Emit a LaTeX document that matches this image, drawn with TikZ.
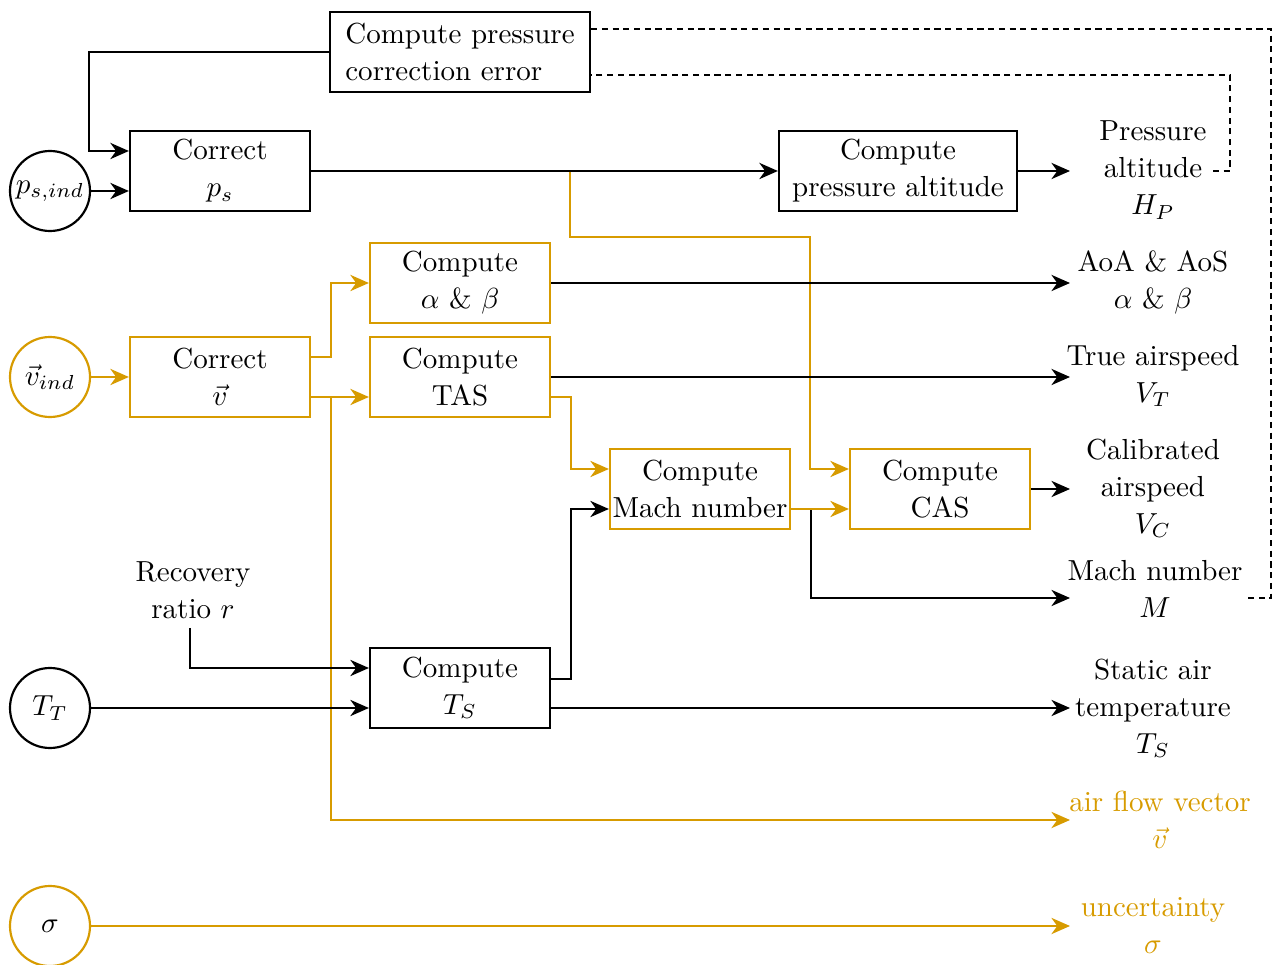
\documentclass[tikz,border=0pt]{standalone}
\usetikzlibrary{arrows.meta,calc}
\definecolor{flow}{RGB}{215,155,0}
\begin{document}
\begin{tikzpicture}[x=0.3448pt,y=-0.3448pt,
  font=\fontsize{10}{12.75}\selectfont,
  box/.style={draw, line width=0.75pt, minimum width=62.07pt, minimum height=27.59pt, align=center, inner sep=2pt},
  obox/.style={box, draw=flow},
  port/.style={draw, circle, line width=0.75pt, minimum size=27.59pt, inner sep=0pt},
  oport/.style={port, draw=flow},
  outlabel/.style={align=center, inner sep=3pt},
  wire/.style={line width=0.75pt, -{Stealth[length=6.4pt,width=5.6pt,inset=2pt]}},
  owire/.style={wire, draw=flow},
  dashline/.style={line width=0.75pt, dash pattern=on 2.1pt off 1.6pt}]
\useasboundingbox (0,0) rectangle (1280,965);

% inputs
\node[port]  (psind) at (50,191) {$p_{s,ind}$};
\node[oport] (vind)  at (50,377) {$\vec{v}_{ind}$};
\node[port]  (TT)    at (50,708) {$T_T$};
\node[oport] (sig)   at (50,926) {$\sigma$};

% processing blocks
\node[box, minimum width=89.66pt, align=left] (corr) at (460,52) {Compute pressure\\correction error};
\node[box]  (cps) at (220,171) {Correct\\$p_s$};
\node[box, minimum width=82.07pt] (cpa) at (898,171) {Compute\\pressure altitude};
\node[obox] (cab) at (460,283) {Compute\\$\alpha$ \& $\beta$};
\node[obox] (cv)  at (220,377) {Correct\\$\vec{v}$};
\node[obox] (tas) at (460,377) {Compute\\TAS};
\node[obox, inner xsep=0pt] (mach) at (700,489) {Compute\\Mach number};
\node[obox] (cas) at (940,489) {Compute\\CAS};
\node[box]  (ts)  at (460,688) {Compute\\$T_S$};

% outputs
\node[outlabel] (plab)  at (1153,170) {Pressure\\altitude\\$H_P$};
\node[outlabel] (aoa)   at (1153,282) {AoA \& AoS\\$\alpha$ \& $\beta$};
\node[outlabel] (vt)    at (1153,376) {True airspeed\\$V_T$};
\node[outlabel] (vc)    at (1153,488) {Calibrated\\airspeed\\$V_C$};
\node[outlabel] (mlab)  at (1155,589) {Mach number\\$M$};
\node[outlabel] (tslab) at (1153,708) {Static air\\temperature\\$T_S$};
\node[outlabel, text=flow] (vlab)   at (1160,820) {air flow vector\\$\vec{v}$};
\node[outlabel, text=flow] (siglab) at (1153,925) {uncertainty\\$\sigma$};
\node[outlabel] (rec) at (193,590) {Recovery\\ratio $r$};

\coordinate (outcol) at (1070,0);
\coordinate (paend) at (1213,171);
\coordinate (mend) at (1248,598);

% static pressure path
\draw[owire] (cps.east) -- (570,171) |- (810,237) |- ($(cas.west)+(0,-20)$);
\draw[wire] (psind.east) -- ($(cps.west)+(0,20)$);
\draw[wire] (corr.west) -- ++(-240,0) |- ($(cps.west)+(0,-20)$);
\draw[wire] (cps.east) -- (cpa.west);
\draw[wire] (cpa.east) -- (cpa.east -| outcol);

% correction error feedback
\draw[dashline] ($(corr.north east)+(0,18)$) -- ++(680,0) |- (mend);
\draw[dashline] (paend) -- ++(17,0) |- ($(corr.south east)+(0,-18)$);

% air flow vector path
\draw[owire] (vind) -- (cv.west);
\draw[owire] ($(cv.east)+(0,-20)$) -- ++(20,0) |- (cab.west);
\draw[owire] ($(cv.east)+(0,20)$) -- ($(tas.west)+(0,20)$);
\draw[owire] ($(cv.east)+(0,20)$) -- ++(20,0) |- (outcol |- vlab);
\draw[wire] (cab.east) -- (cab.east -| outcol);
\draw[wire] (tas.east) -- (tas.east -| outcol);
\draw[owire] ($(tas.east)+(0,20)$) -- ++(20,0) |- ($(mach.west)+(0,-20)$);

% temperature path
\draw[wire] ($(rec.south)+(-3,0)$) |- ($(ts.west)+(0,-20)$);
\draw[wire] (TT.east) -- ($(ts.west)+(0,20)$);
\draw[wire] ($(ts.east)+(0,-9)$) -- ++(20,0) |- ($(mach.west)+(0,20)$);
\draw[wire] ($(ts.east)+(0,20)$) -- (outcol |- tslab);

% Mach number and calibrated airspeed
\draw[wire] ($(mach.east)+(0,20)$) -- ++(20,0) |- (outcol |- mend);
\draw[owire] ($(mach.east)+(0,20)$) -- ($(cas.west)+(0,20)$);
\draw[wire] (cas.east) -- (cas.east -| outcol);

% uncertainty
\draw[owire] (sig.east) -- (sig.east -| outcol);
\end{tikzpicture}
\end{document}
